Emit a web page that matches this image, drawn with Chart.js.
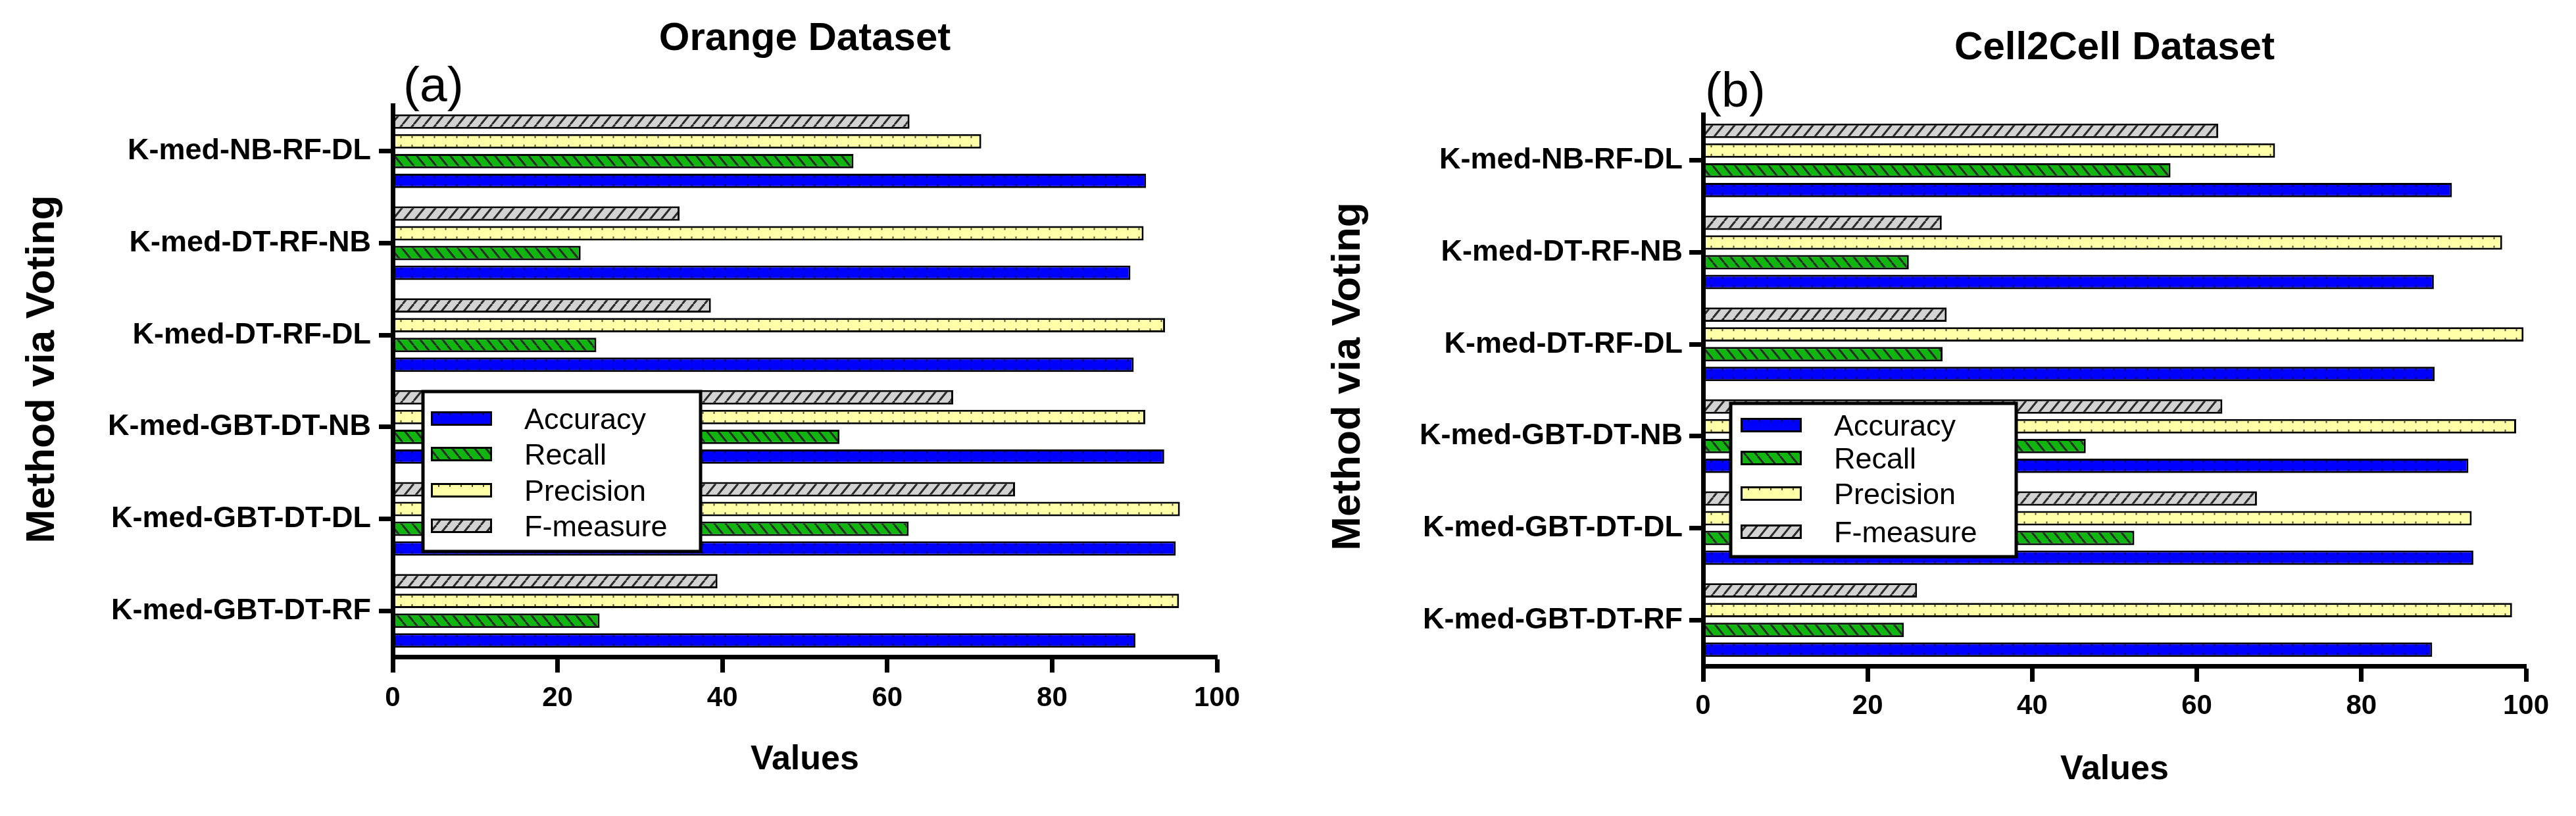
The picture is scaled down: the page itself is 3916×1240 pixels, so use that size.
<!DOCTYPE html>
<html>
<head>
<meta charset="utf-8">
<script src="https://cdn.jsdelivr.net/npm/chart.js@4.4.1/dist/chart.umd.min.js"></script>
<style>
html,body{margin:0;padding:0;background:#fff;}
#wrap{position:relative;width:3916px;height:1240px;background:#fff;}
.panel{position:absolute;top:0;width:1958px;height:1240px;}
</style>
</head>
<body>
<div id="wrap">
  <div class="panel" style="left:0"><canvas id="c1" width="1958" height="1240"></canvas></div>
  <div class="panel" style="left:1958px"><canvas id="c2" width="1958" height="1240"></canvas></div>
</div>
<script>
// ---------------- DATA (categories listed top to bottom) ----------------
const methods = ['K-med-NB-RF-DL','K-med-DT-RF-NB','K-med-DT-RF-DL','K-med-GBT-DT-NB','K-med-GBT-DT-DL','K-med-GBT-DT-RF'];
const seriesNames = ['Accuracy','Recall','Precision','F-measure'];
const xTicks = [0,20,40,60,80,100];

const orangeAccuracy  = [91.4, 89.5, 89.9, 93.6, 95.0, 90.1];
const orangeRecall    = [55.9, 22.8, 24.7, 54.2, 62.6, 25.1];
const orangePrecision = [71.4, 91.1, 93.7, 91.3, 95.5, 95.4];
const orangeFmeasure  = [62.7, 34.8, 38.6, 68.0, 75.5, 39.4];

const cellAccuracy  = [91.0, 88.8, 88.9, 93.0, 93.6, 88.6];
const cellRecall    = [56.8, 25.0, 29.1, 46.5, 52.4, 24.4];
const cellPrecision = [69.5, 97.1, 99.7, 98.8, 93.4, 98.3];
const cellFmeasure  = [62.6, 29.0, 29.6, 63.1, 67.3, 26.0];

// ---------------- STYLE ----------------
const FF = "'Liberation Sans', Arial, Helvetica, sans-serif";
Chart.defaults.font.family = FF;
Chart.defaults.color = '#000';

function hatch(ctx, bg, dir) {
  const w = 17, h = 21;
  const c = document.createElement('canvas');
  c.width = w; c.height = h;
  const x = c.getContext('2d');
  x.fillStyle = bg; x.fillRect(0, 0, w, h);
  x.strokeStyle = '#2a2a2a'; x.lineWidth = 3;
  for (let k = -1; k <= 1; k++) {
    x.beginPath();
    if (dir === '/') { x.moveTo(k * w, h); x.lineTo(k * w + w, 0); }
    else { x.moveTo(k * w, 0); x.lineTo(k * w + w, h); }
    x.stroke();
  }
  return ctx.createPattern(c, 'repeat');
}

function makeDatasets(ctx, acc, rec, prec, fm) {
  // order top -> bottom inside each group: F-measure, Precision, Recall, Accuracy
  const common = {borderColor:'#000', borderWidth:3, borderSkipped:false, categoryPercentage:0.86, barPercentage:0.73};
  return [
    Object.assign({label: seriesNames[3], data: fm,   backgroundColor: hatch(ctx, '#D3D3D3', '/'), dots:false}, common),
    Object.assign({label: seriesNames[2], data: prec, backgroundColor: '#FFFFA8', dots:true}, common),
    Object.assign({label: seriesNames[1], data: rec,  backgroundColor: hatch(ctx, '#10B510', '\\'), dots:false}, common),
    Object.assign({label: seriesNames[0], data: acc,  backgroundColor: '#0000FF', dots:true}, common)
  ];
}

function drawDots(ctx, x0, x1, top, bottom, both) {
  ctx.fillStyle = 'rgba(0,0,0,0.7)';
  for (let x = x0 + 8; x < x1 - 3; x += 17) {
    ctx.fillRect(x, top, 2, 3);
    if (both) ctx.fillRect(x, bottom - 3, 2, 3);
  }
}

const dotsPlugin = {
  id: 'dots',
  afterDatasetsDraw(chart) {
    const ctx = chart.ctx;
    chart.data.datasets.forEach((ds, i) => {
      if (!ds.dots) return;
      const meta = chart.getDatasetMeta(i);
      meta.data.forEach(bar => {
        const p = bar.getProps(['x','y','base','height'], true);
        const x0 = Math.min(p.base, p.x) + 3, x1 = Math.max(p.base, p.x) - 3;
        const top = p.y - p.height / 2 + 3, bot = p.y + p.height / 2 - 3;
        ctx.save();
        drawDots(ctx, x0, x1, top, bot, true);
        ctx.restore();
      });
    });
  }
};

const overlayPlugin = {
  id: 'overlay',
  afterDraw(chart, args, opts) {
    const ctx = chart.ctx, ca = chart.chartArea;
    ctx.save();
    ctx.fillStyle = '#000';
    // y axis title (rotated)
    ctx.save();
    ctx.translate(opts.yTitleX, opts.yTitleY);
    ctx.rotate(-Math.PI / 2);
    ctx.font = 'bold 62px ' + FF;
    ctx.textAlign = 'center'; ctx.textBaseline = 'middle';
    ctx.fillText(opts.yTitle, 0, 0);
    ctx.restore();
    // panel letter
    ctx.font = opts.letterSize + 'px ' + FF;
    ctx.textAlign = 'left'; ctx.textBaseline = 'alphabetic';
    ctx.fillText(opts.letter, ca.left + opts.letterDx, opts.letterBaseline);
    // legend box
    const L = opts.legend;
    const bx = ca.left + L.dx, by = ca.top + L.dy;
    ctx.fillStyle = '#fff'; ctx.fillRect(bx, by, L.w, L.h);
    ctx.lineWidth = 5; ctx.strokeStyle = '#000'; ctx.strokeRect(bx, by, L.w, L.h);
    const ds = chart.data.datasets;
    const order = ds.map((d, i) => i).reverse();
    order.forEach((di, k) => {
      const d = ds[di];
      const cy = by + L.rows[k];
      const sx = bx + L.sx, sw = 93, sh = 22;
      ctx.fillStyle = '#000'; ctx.fillRect(sx, cy - sh / 2, sw, sh);
      ctx.fillStyle = d.backgroundColor; ctx.fillRect(sx + 3, cy - sh / 2 + 3, sw - 6, sh - 6);
      if (d.dots) drawDots(ctx, sx + 3, sx + sw - 3, cy - sh / 2 + 3, cy + sh / 2 - 3, false);
      ctx.fillStyle = '#000';
      ctx.font = '45px ' + FF;
      ctx.fillText(d.label, bx + L.tx, cy + 16);
    });
    ctx.restore();
  }
};

function makeChart(id, title, acc, rec, prec, fm, cfg) {
  const canvas = document.getElementById(id);
  const ctx = canvas.getContext('2d');
  return new Chart(ctx, {
    type: 'bar',
    data: {labels: methods, datasets: makeDatasets(ctx, acc, rec, prec, fm)},
    options: {
      indexAxis: 'y',
      responsive: false,
      animation: false,
      devicePixelRatio: 1,
      layout: {padding: {left: 0, top: 0, right: cfg.padRight, bottom: 0}},
      plugins: {
        legend: {display: false},
        tooltip: {enabled: false},
        title: {display: true, text: title, fullSize: false, color: '#000',
                font: {family: FF, size: 60, weight: 'bold'},
                padding: {top: cfg.titleTop, bottom: cfg.titleBottom}},
        overlay: cfg.overlay
      },
      scales: {
        x: {
          type: 'linear', position: 'bottom', min: 0, max: 100,
          afterBuildTicks: s => { s.ticks = xTicks.map(v => ({value: v})); },
          afterFit: s => { s.height = cfg.xHeight; },
          border: {display: true, color: '#000', width: 7, z: 1},
          grid: {display: true, drawOnChartArea: false, drawTicks: true, tickLength: 24, tickWidth: 7, tickColor: '#000'},
          ticks: {color: '#000', font: {family: FF, size: 42, weight: 'bold'}, padding: cfg.xPad, maxRotation: 0, autoSkip: false},
          title: {display: true, text: 'Values', color: '#000', font: {family: FF, size: 52, weight: 'bold'},
                  padding: {top: 0, bottom: cfg.xTitleBottom}}
        },
        y: {
          type: 'category', position: 'left', offset: true,
          afterFit: s => { s.width = cfg.yWidth; },
          border: {display: true, color: '#000', width: 7, z: 1},
          grid: {display: true, offset: false, drawOnChartArea: false, drawTicks: true, tickLength: 21, tickWidth: 7, tickColor: '#000'},
          ticks: {color: '#000', font: {family: FF, size: 45, weight: 'bold'}, padding: cfg.yPad, autoSkip: false},
          title: {display: false}
        }
      }
    },
    plugins: [dotsPlugin, overlayPlugin]
  });
}

makeChart('c1', 'Orange Dataset', orangeAccuracy, orangeRecall, orangePrecision, orangeFmeasure, {
  padRight: 108, titleTop: 23.5, titleBottom: 64.5, xHeight: 242, xPad: 14, xTitleBottom: 54,
  yWidth: 597, yPad: 12,
  overlay: {yTitle: 'Method via Voting', yTitleX: 65, yTitleY: 561,
            letter: '(a)', letterSize: 75, letterDx: 16, letterBaseline: 154,
            legend: {dx: 46, dy: 435, w: 422, h: 243, sx: 12, tx: 154, rows: [41, 95, 150, 204]}}
});

makeChart('c2', 'Cell2Cell Dataset', cellAccuracy, cellRecall, cellPrecision, cellFmeasure, {
  padRight: 76, titleTop: 37, titleBottom: 65, xHeight: 228, xPad: 12, xTitleBottom: 39,
  yWidth: 631, yPad: 10,
  overlay: {yTitle: 'Method via Voting', yTitleX: 92, yTitleY: 572,
            letter: '(b)', letterSize: 75, letterDx: 3, letterBaseline: 162,
            legend: {dx: 42, dy: 439, w: 434, h: 233, sx: 15, tx: 157, rows: [33, 83, 137, 195]}}
});
</script>
</body>
</html>
